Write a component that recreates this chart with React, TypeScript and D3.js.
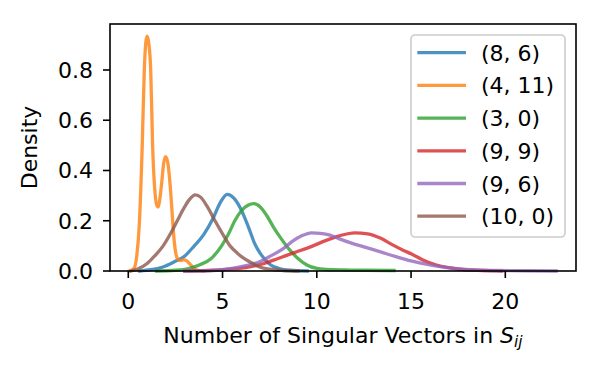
import React from 'react';
import * as d3 from 'd3';

// legend labels, in plotting order
const labels = ['(8, 6)', '(4, 11)', '(3, 0)', '(9, 9)', '(9, 6)', '(10, 0)'];
const colors = ['#1f77b4', '#ff7f0e', '#2ca02c', '#d62728', '#9467bd', '#8c564b'];

// density curves, [x, density]
const blue = [[0.6, 0], [1.2, 0.005], [1.8, 0.015], [2.4, 0.035], [3.0, 0.06], [3.5, 0.1], [4.0, 0.145], [4.5, 0.21], [4.9, 0.275], [5.25, 0.305], [5.6, 0.29], [5.95, 0.25], [6.4, 0.17], [6.7, 0.11], [7.0, 0.07], [7.5, 0.027], [8.0, 0.01], [8.6, 0.003], [9.5, 0]];
const orange = [[0.05, 0], [0.3, 0.01], [0.45, 0.06], [0.58, 0.18], [0.74, 0.5], [0.85, 0.8], [0.93, 0.91], [1.0, 0.935], [1.08, 0.91], [1.19, 0.8], [1.29, 0.5], [1.4, 0.33], [1.5, 0.265], [1.59, 0.255], [1.68, 0.29], [1.77, 0.35], [1.88, 0.43], [1.98, 0.455], [2.1, 0.43], [2.2, 0.36], [2.3, 0.26], [2.4, 0.15], [2.5, 0.08], [2.6, 0.05], [2.75, 0.042], [2.95, 0.044], [3.1, 0.04], [3.3, 0.025], [3.5, 0.01], [3.7, 0.003], [4.0, 0]];
const green = [[1.5, 0], [2.5, 0.003], [3.2, 0.01], [3.8, 0.025], [4.4, 0.05], [4.95, 0.1], [5.3, 0.145], [5.65, 0.2], [6.0, 0.24], [6.35, 0.262], [6.66, 0.268], [7.0, 0.255], [7.35, 0.22], [7.7, 0.175], [8.1, 0.13], [8.55, 0.085], [9.0, 0.05], [9.45, 0.025], [10.0, 0.01], [10.5, 0.006], [11.5, 0.004], [12.5, 0.003], [14.1, 0.002]];
const red = [[3.0, 0], [4.5, 0.003], [5.9, 0.01], [6.5, 0.017], [7.2, 0.03], [7.95, 0.05], [8.8, 0.073], [9.7, 0.097], [10.5, 0.122], [11.2, 0.14], [12.0, 0.152], [12.7, 0.148], [13.4, 0.13], [14.0, 0.105], [14.6, 0.082], [15.1, 0.065], [15.6, 0.045], [16.3, 0.025], [17.0, 0.013], [17.8, 0.005], [18.8, 0.002], [19.8, 0]];
const purple = [[3.0, 0], [4.5, 0.002], [5.5, 0.01], [6.3, 0.022], [7.0, 0.038], [7.6, 0.062], [8.2, 0.088], [8.7, 0.118], [9.2, 0.14], [9.72, 0.152], [10.2, 0.15], [10.7, 0.143], [11.2, 0.128], [11.8, 0.112], [12.45, 0.097], [13.3, 0.078], [14.2, 0.057], [15.0, 0.04], [16.0, 0.024], [17.0, 0.012], [17.75, 0.007], [18.5, 0.004], [19.5, 0.002], [21.0, 0.001], [22.7, 0]];
const brown = [[0.15, 0], [0.5, 0.008], [1.0, 0.03], [1.4, 0.06], [1.85, 0.1], [2.25, 0.15], [2.6, 0.2], [2.95, 0.25], [3.25, 0.285], [3.55, 0.303], [3.85, 0.293], [4.2, 0.255], [4.6, 0.2], [5.0, 0.148], [5.4, 0.1], [5.8, 0.07], [6.2, 0.047], [6.6, 0.03], [7.0, 0.015], [7.5, 0.007], [8.2, 0.002], [9.0, 0]];

const curves = [blue, orange, green, red, purple, brown];

const xTicks = [0, 5, 10, 15, 20];
const yTicks = [0, 0.2, 0.4, 0.6, 0.8];

const W = 600, H = 380;
const margin = { top: 24, right: 24, bottom: 109, left: 110 };
const FONT = 'DejaVu Sans, sans-serif';
const FS = 22;

export default function App() {
  const x = d3.scaleLinear().domain([-0.97, 23.75]).range([margin.left, W - margin.right]);
  const y = d3.scaleLinear().domain([0, 0.983]).range([H - margin.bottom, margin.top]);
  const line = d3.line<number[]>()
    .x(d => x(d[0]))
    .y(d => y(d[1]))
    .curve(d3.curveMonotoneX);

  const x0 = margin.left, x1 = W - margin.right;
  const y0 = H - margin.bottom, y1 = margin.top;

  const legX = 411, legY = 35, rowH = 32.7;

  return (
    <svg width={W} height={H} style={{ position: 'absolute', left: 0, top: 0, background: '#fff' }}
      fontFamily={FONT} fontSize={FS}>
      <rect x={0} y={0} width={W} height={H} fill="#fff" />
      <g fill="none" strokeWidth={3.3} strokeLinejoin="round" strokeLinecap="square">
        {curves.map((c, i) => (
          <path key={i} d={line(c) || ''} stroke={colors[i]} strokeOpacity={0.8} />
        ))}
      </g>

      {/* axes frame */}
      <rect x={x0} y={y1} width={x1 - x0} height={y0 - y1} fill="none" stroke="#000" strokeWidth={1.6} />

      {/* x ticks */}
      {xTicks.map(t => (
        <g key={t}>
          <line x1={x(t)} x2={x(t)} y1={y0} y2={y0 + 7} stroke="#000" strokeWidth={1.6} />
          <text x={x(t)} y={309} textAnchor="middle">{t}</text>
        </g>
      ))}
      {/* y ticks */}
      {yTicks.map(t => (
        <g key={t}>
          <line x1={x0 - 7} x2={x0} y1={y(t)} y2={y(t)} stroke="#000" strokeWidth={1.6} />
          <text x={93} y={y(t) + 8} textAnchor="end">{t.toFixed(1)}</text>
        </g>
      ))}

      <text x={(x0 + x1) / 2} y={342.5} textAnchor="middle">
        Number of Singular Vectors in{' '}
        <tspan fontStyle="italic">S</tspan>
        <tspan fontStyle="italic" fontSize={FS * 0.7} dy={4}>ij</tspan>
      </text>
      <text transform={`translate(37,${(y0 + y1) / 2}) rotate(-90)`} textAnchor="middle">Density</text>

      {/* legend */}
      <rect x={legX} y={legY} width={154} height={202} rx={4} fill="#fff" fillOpacity={0.8}
        stroke="#cccccc" strokeWidth={1.6} />
      {labels.map((l, i) => {
        const ly = 52.7 + i * rowH;
        return (
          <g key={l}>
            <line x1={417.3} x2={466} y1={ly} y2={ly} stroke={colors[i]} strokeOpacity={0.8} strokeWidth={3.3} />
            <text x={481} y={ly + 8}>{l}</text>
          </g>
        );
      })}
    </svg>
  );
}
